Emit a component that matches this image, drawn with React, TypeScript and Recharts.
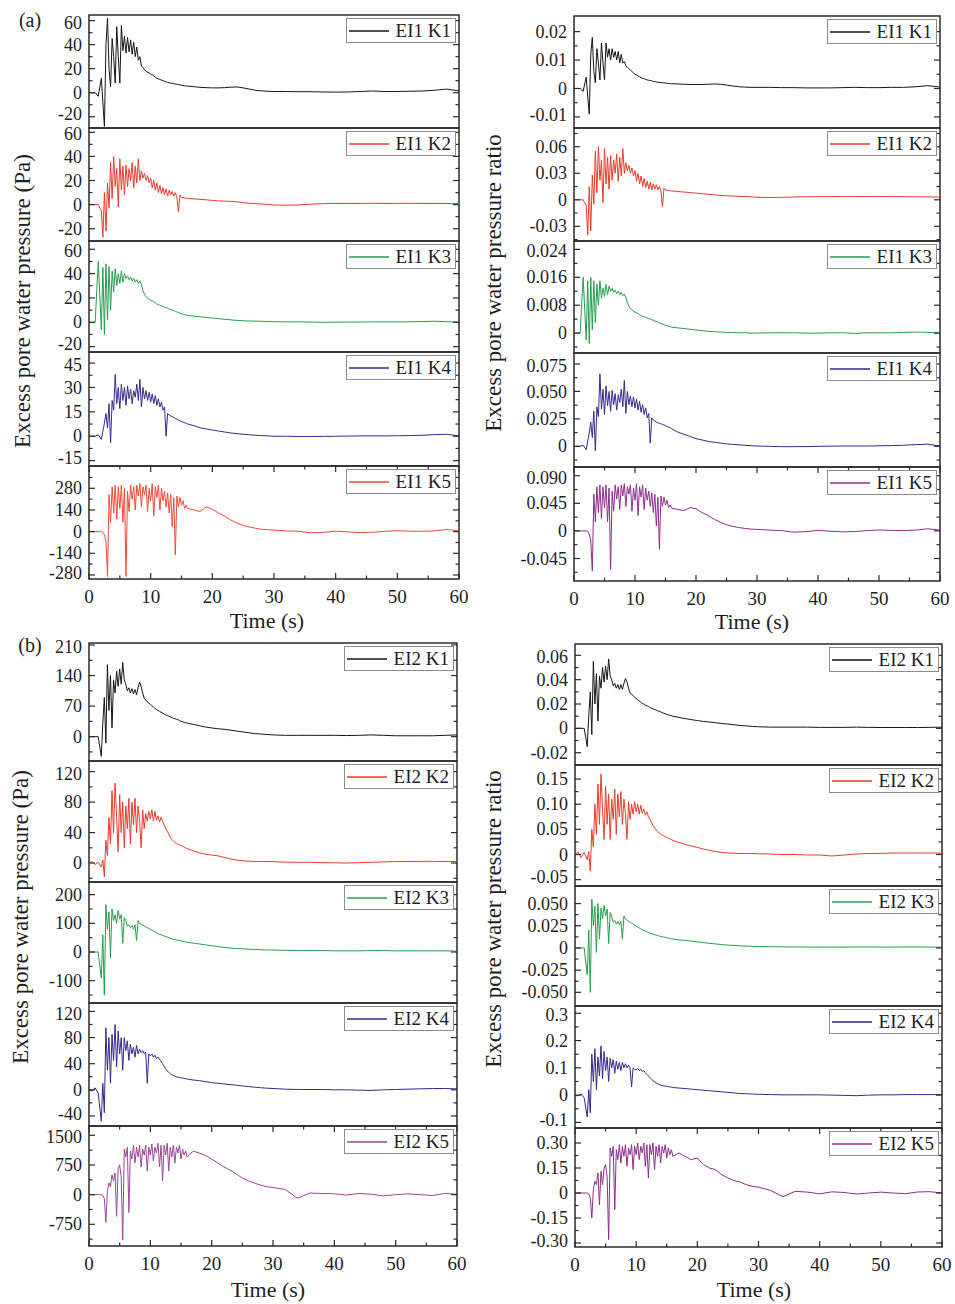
import React from 'react';
import { LineChart, Line, XAxis, YAxis, Legend, ReferenceArea } from 'recharts';

const SERIF = '"Liberation Serif", "Times New Roman", Times, serif';
const FRAME = '#2b2b2b';

// sample times (s), shared by every trace
const time = [
  0, 0.5, 1, 1.5,
  2, 2.25, 2.5, 2.75, 3, 3.25, 3.5, 3.75, 4, 4.25, 4.5, 4.75, 5, 5.25, 5.5, 5.75,
  6, 6.25, 6.5, 6.75, 7, 7.25, 7.5, 7.75, 8, 8.25, 8.5, 8.75, 9, 9.25, 9.5, 9.75,
  10, 10.25, 10.5, 10.75, 11, 11.25, 11.5, 11.75, 12, 12.25, 12.5, 12.75, 13, 13.25, 13.5, 13.75,
  14, 14.25, 14.5, 14.75, 15, 15.25, 15.5, 15.75, 16,
  17, 18, 19, 20, 21, 22, 23, 24, 25, 26, 27, 28, 29, 30,
  32, 34, 36, 38, 40, 42, 44, 46, 48, 50, 52, 54, 56, 58, 60,
];

// (a) EI1, excess pore water pressure (Pa)
const ei1K1Pa = [
  0, 0, 0, -3,
  12, -8, -28, 40, 62, 20, 5, 45, 30, 8, 55, 30, 8, 56, 35, 47,
  33, 46, 34, 44, 32, 42, 30, 38, 27, 30, 22, 21, 19, 18, 17, 16.5,
  15.5, 15, 14, 13, 12, 11.5, 11, 10.5, 10, 9.5, 9, 8.7, 8.3, 8, 7.8, 7.5,
  7.2, 7, 6.8, 6.5, 6.2, 6, 5.8, 5.6, 5.5,
  5, 4.5, 4.2, 4, 4, 4.2, 4.6, 4.8, 4, 3, 2, 1.5, 1.2, 1,
  1, 0.8, 0.8, 0.6, 0.5, 0.6, 1, 1.4, 1, 1, 1.2, 1.4, 2, 3, 1.5,
];
const ei1K2Pa = [
  0, 0, 0, 0,
  -5, -27, 10, -22, 18, -3, 35, 5, 40, 15, 30, -2, 38, 12, 32, 8,
  33, 15, 30, 20, 35, 14, 32, 18, 38, 20, 28, 22, 26, 20, 24, 18,
  22, 14, 20, 12, 18, 10, 16, 9, 14, 8, 13, 7, 12, 8, 11, 7,
  10, 6, -6, 8, 6, 5.8, 5.5, 5.2, 5,
  4.8, 4.4, 4, 3.5, 3.1, 2.9, 2.7, 2.3, 1.6, 1.2, 0.8, 0.5, 0.2, -0.3,
  -0.5, -0.2, 0.4, 0.8, 1, 1, 1, 1.1, 1, 1, 1.1, 1, 1, 0.9, 0.8,
];
const ei1K3Pa = [
  0, 0, 0, 50,
  -6, 45, -10, 48, 2, 46, 10, 42, 25, 44, 30, 40, 32, 42, 33, 40,
  36, 38, 35, 37, 34, 36, 33, 35, 32, 34, 31, 26, 23, 21, 20, 19,
  18, 17.5, 17, 16, 15, 14.5, 14, 13.5, 13, 12.5, 12, 11.5, 11, 10.5, 10, 9.5,
  9, 8.5, 8, 7.5, 7, 6.7, 6.3, 6, 5.7,
  5, 4.5, 4, 3.5, 3, 2.5, 2, 1.6, 1.3, 1.1, 1, 0.8, 0.6, 0.5,
  0.4, 0.3, 0.2, 0, 0.1, 0.2, 0.2, 0.3, 0.3, 0.3, 0.4, 0.6, 0.9, 0.5, 0.1,
];
const ei1K4Pa = [
  0, 0, 0, 1,
  -2, 3, 8, 14, 5, 20, -4, 22, 16, 38, 20, 30, 17, 32, 22, 30,
  19, 31, 23, 29, 20, 28, 24, 32, 22, 35, 18, 30, 23, 28, 22, 27,
  21, 26, 20, 25, 19, 23, 18, 21, 16, 18, 0, 14, 13, 12.5, 12, 11.5,
  11, 10.5, 10, 9.5, 9, 8.7, 8.3, 8, 7.5,
  6.5, 5.2, 4.5, 3.8, 3.2, 2.6, 2, 1.6, 1.2, 0.9, 0.6, 0.4, 0.2, 0,
  0, -0.2, -0.2, -0.1, 0, 0.1, 0.2, 0.2, 0.2, 0.3, 0.4, 0.6, 1, 1.2, 0.2,
];
const ei1K5Pa = [
  0, 0, 0, 0,
  0, -5, -20, -60, -290, 240, 60, 290, 120, 300, 80, 290, 150, 300, 60, 280,
  -290, 260, 130, 300, 210, 290, 140, 300, 230, 310, 160, 290, 240, 300, 130, 280,
  200, 310, 100, 290, 220, 300, 140, 280, 200, 260, 160, 250, 120, 240, 30, 220,
  -150, 230, 160, 220, 170, 200, 150, 170, 150,
  140, 130, 160, 145, 120, 100, 75, 55, 40, 30, 22, 15, 12, 10,
  5, 2, -8, -5, 3, -2, -6, -4, 2, 6, 3, 2, 5, 14, 5,
];

// (a) EI1, excess pore water pressure ratio
const ei1K1Ratio = [
  0, 0, 0, -0.001,
  0.004, -0.003, -0.009, 0.012, 0.018, 0.006, 0.002, 0.014, 0.009, 0.003, 0.016, 0.009, 0.003, 0.016, 0.011, 0.014,
  0.01, 0.014, 0.011, 0.013, 0.01, 0.013, 0.009, 0.012, 0.009, 0.0095, 0.008, 0.0075, 0.007, 0.0065, 0.006, 0.0055,
  0.005, 0.0047, 0.0044, 0.0041, 0.0038, 0.0036, 0.0034, 0.0032, 0.003, 0.0029, 0.0028, 0.0027, 0.0025, 0.0024, 0.0023, 0.0022,
  0.0021, 0.0021, 0.002, 0.002, 0.0019, 0.0018, 0.0018, 0.0017, 0.0017,
  0.0016, 0.0015, 0.0014, 0.0014, 0.0014, 0.0015, 0.0016, 0.0015, 0.0012, 0.0009, 0.0006, 0.0005, 0.0004, 0.0004,
  0.0004, 0.0003, 0.0003, 0.0002, 0.0002, 0.0002, 0.0003, 0.0004, 0.0003, 0.0003, 0.0004, 0.0004, 0.0006, 0.001, 0.0005,
];
const ei1K2Ratio = [
  0, 0, 0, 0,
  -0.006, -0.04, 0.015, -0.035, 0.028, -0.005, 0.055, 0.008, 0.06, 0.022, 0.045, -0.003, 0.058, 0.018, 0.048, 0.012,
  0.05, 0.022, 0.045, 0.03, 0.052, 0.021, 0.048, 0.027, 0.058, 0.03, 0.042, 0.033, 0.039, 0.03, 0.036, 0.027,
  0.033, 0.021, 0.03, 0.018, 0.027, 0.015, 0.024, 0.014, 0.021, 0.012, 0.02, 0.011, 0.018, 0.012, 0.017, 0.011,
  0.015, 0.01, -0.008, 0.013, 0.011, 0.0108, 0.0105, 0.0102, 0.01,
  0.0094, 0.0088, 0.0082, 0.0075, 0.0069, 0.0062, 0.0056, 0.005, 0.0045, 0.0042, 0.0039, 0.0037, 0.0033, 0.0029,
  0.0026, 0.0028, 0.0032, 0.0034, 0.0035, 0.0035, 0.0036, 0.0036, 0.0035, 0.0035, 0.0036, 0.0035, 0.0034, 0.0033, 0.003,
];
const ei1K3Ratio = [
  0, 0, 0, 0.016,
  -0.002, 0.015, -0.003, 0.016, 0.001, 0.015, 0.003, 0.014, 0.008, 0.015, 0.01, 0.013, 0.0105, 0.014, 0.011, 0.0135,
  0.012, 0.0128, 0.0117, 0.0123, 0.0113, 0.012, 0.011, 0.0117, 0.0107, 0.0112, 0.0103, 0.0087, 0.0077, 0.007, 0.0067, 0.0063,
  0.006, 0.0058, 0.0057, 0.0053, 0.005, 0.0048, 0.0047, 0.0045, 0.0043, 0.0042, 0.004, 0.0038, 0.0037, 0.0035, 0.0033, 0.0032,
  0.0029, 0.0027, 0.0026, 0.0024, 0.0022, 0.0021, 0.002, 0.0018, 0.0017,
  0.0015, 0.0013, 0.0011, 0.0009, 0.0007, 0.0005, 0.0004, 0.0003, 0.0002, 0.0002, 0.0001, 0.0001, 0, 0,
  0.0001, 0.0001, 0.0001, 0, 0, 0.0001, 0.0001, -0.0001, 0.0001, 0.0001, 0.0001, 0.0002, 0.0003, 0.0002, 0.0001,
];
const ei1K4Ratio = [
  0, 0, 0, 0.001,
  -0.003, 0.005, 0.012, 0.022, 0.008, 0.032, -0.004, 0.036, 0.027, 0.066, 0.034, 0.052, 0.029, 0.055, 0.037, 0.05,
  0.032, 0.051, 0.038, 0.048, 0.033, 0.047, 0.04, 0.052, 0.036, 0.06, 0.03, 0.05, 0.038, 0.046, 0.036, 0.045,
  0.035, 0.043, 0.033, 0.041, 0.031, 0.038, 0.029, 0.035, 0.026, 0.03, 0.003, 0.026, 0.024, 0.023, 0.022, 0.0215,
  0.021, 0.0205, 0.02, 0.0195, 0.019, 0.018, 0.0175, 0.017, 0.016,
  0.013, 0.011, 0.009, 0.007, 0.0058, 0.0045, 0.0037, 0.003, 0.0023, 0.0018, 0.0014, 0.001, 0.0006, 0.0003,
  0, -0.0003, -0.0003, -0.0002, 0, 0.0002, 0.0003, 0.0003, 0.0003, 0.0005, 0.0007, 0.001, 0.0016, 0.002, 0.0003,
];
const ei1K5Ratio = [
  0, 0, 0, 0,
  0, -0.001, -0.005, -0.015, -0.065, 0.06, 0.015, 0.072, 0.03, 0.075, 0.02, 0.072, 0.038, 0.075, 0.015, 0.07,
  -0.063, 0.065, 0.032, 0.075, 0.052, 0.072, 0.035, 0.075, 0.057, 0.077, 0.04, 0.072, 0.06, 0.075, 0.032, 0.07,
  0.05, 0.077, 0.025, 0.072, 0.055, 0.075, 0.035, 0.07, 0.05, 0.065, 0.04, 0.062, 0.03, 0.06, 0.008, 0.055,
  -0.03, 0.057, 0.04, 0.055, 0.042, 0.05, 0.038, 0.042, 0.037,
  0.035, 0.033, 0.038, 0.036, 0.03, 0.025, 0.019, 0.014, 0.01, 0.0075, 0.0055, 0.004, 0.003, 0.0025,
  0.0013, 0.0005, -0.002, -0.0013, 0.0008, -0.0005, -0.0015, -0.001, 0.0005, 0.0015, 0.0008, 0.0005, 0.0013, 0.0035, 0.0013,
];

// (b) EI2, excess pore water pressure (Pa)
const ei2K1Pa = [
  0, 0, 0, 0,
  -45, 30, 90, -15, 165, 60, 140, 20, 130, 100, 150, 115, 155, 120, 170, 130,
  120, 105, 112, 100, 110, 98, 108, 96, 112, 125, 115, 100, 88, 84, 80, 77,
  74, 71, 68, 65, 62, 60, 58, 56, 54, 52, 50, 49, 47, 45, 44, 42,
  41, 40, 39, 37, 35, 34, 33, 32, 31,
  28, 25, 22, 20, 18, 17, 15, 13, 11, 9, 7, 6, 5, 4,
  3, 3, 3, 3, 3, 2.5, 3, 4, 3, 2, 2, 2, 2, 3, 4,
];
const ei2K2Pa = [
  0, 2, -2, 1,
  -5, 4, -18, 30, 10, 60, 25, 95, 40, 105, 60, 15, 90, 40, 80, 20,
  75, 45, 85, 25, 80, 50, 85, 40, 75, 55, 20, 70, 45, 65, 55, 68,
  58, 70, 55, 68, 56, 62, 54, 60, 55, 50, 46, 42, 38, 34, 31, 29,
  27, 26, 25, 24, 23, 22, 21, 20, 19,
  16, 13.5, 11.5, 10.5, 9.5, 7.5, 5.5, 4, 3, 2.5, 2, 2, 2, 1.8,
  1.2, 1, 1, 0.5, 0.3, 0, 0.5, 1, 1.5, 2, 2, 2.2, 2.2, 2, 2,
];
const ei2K3Pa = [
  0, 0, 0, 0,
  -90, 60, -150, 165, 80, 140, -20, 150, 110, 130, 100, 145, 115, 130, 30, 120,
  110, 90, 95, 85, 92, 80, 95, 40, 110, 100, 97, 94, 91, 88, 85, 82,
  79, 76, 73, 70, 67, 64, 62, 60, 58, 56, 54, 52, 50, 48, 46, 44,
  43, 42, 41, 40, 39, 37, 36, 35, 34,
  31, 28, 25, 22, 19, 16, 14, 12, 11, 10, 9, 8, 7, 7,
  6, 5, 5, 5, 4, 4, 4, 5, 5, 4, 4, 4, 4, 4, 3,
];
const ei2K4Pa = [
  0, -2, 3, -5,
  -48, 10, -35, 95, 30, 80, 10, 85, 45, 100, 35, 90, 55, 80, 30, 80,
  60, 75, 45, 70, 55, 65, 50, 68, 55, 62, 57, 60, 55, 58, 10, 55,
  52, 55, 50, 53, 48, 50, 46, 44, 40, 36, 32, 29, 27, 25, 23, 22,
  21, 20, 19.5, 19, 18.5, 18, 17.5, 17, 16.5,
  15, 14, 12.5, 11, 10, 9, 8, 7, 6, 5, 4, 3.2, 2.5, 2,
  1, 0.5, 0.5, 0.5, 0, 0, -0.5, -1, 0, 0.5, 1, 1.5, 2, 2, 1.5,
];
const ei2K5Pa = [
  0, 0, 0, 0,
  0, -20, -100, -700, 100, 300, 200, 500, 350, 550, -550, 650, 750, 450, -1150, 1150,
  950, 1200, -450, 1100, 900, 1250, 800, 1200, 950, 1250, 700, 1150, 1000, 1250, 600, 1200,
  1000, 1280, 850, 1200, 1050, 1300, 700, 1250, 350, 1250, 1000, 1300, 600, 1200, 950, 1250,
  800, 1200, 1050, 1250, 900, 1150, 1000, 1100, 950,
  1100, 1050, 990, 900, 800, 700, 620, 520, 420, 350, 290, 240, 200, 180,
  130, -90, 40, 30, 20, -10, 30, 10, -30, 0, 20, 0, -20, 30, 10,
];

// (b) EI2, excess pore water pressure ratio
const ei2K1Ratio = [
  0, 0, 0, 0,
  -0.015, 0.01, 0.03, -0.005, 0.055, 0.02, 0.045, 0.006, 0.043, 0.033, 0.05, 0.038, 0.051, 0.04, 0.057, 0.043,
  0.04, 0.035, 0.037, 0.033, 0.036, 0.032, 0.036, 0.032, 0.037, 0.041, 0.038, 0.033, 0.029, 0.028, 0.027, 0.0255,
  0.0245, 0.0235, 0.0225, 0.0215, 0.0205, 0.02, 0.019, 0.0185, 0.018, 0.0172, 0.0165, 0.016, 0.0155, 0.015, 0.0145, 0.014,
  0.0135, 0.013, 0.0125, 0.012, 0.0115, 0.011, 0.0107, 0.0103, 0.01,
  0.009, 0.008, 0.0072, 0.0064, 0.0057, 0.0052, 0.0046, 0.004, 0.0035, 0.003, 0.0024, 0.002, 0.0016, 0.0013,
  0.001, 0.001, 0.001, 0.001, 0.0008, 0.0008, 0.0008, 0.001, 0.0008, 0.0007, 0.0007, 0.0007, 0.0007, 0.0008, 0.001,
];
const ei2K2Ratio = [
  0, 0.005, -0.006, 0.004,
  -0.01, 0.006, -0.033, 0.05, 0.015, 0.1, 0.04, 0.14, 0.06, 0.16, 0.09, 0.03, 0.135, 0.06, 0.12, 0.03,
  0.11, 0.07, 0.13, 0.04, 0.12, 0.075, 0.125, 0.06, 0.11, 0.08, 0.03, 0.105, 0.07, 0.1, 0.08, 0.105,
  0.085, 0.1, 0.08, 0.098, 0.082, 0.09, 0.078, 0.085, 0.075, 0.07, 0.064, 0.058, 0.053, 0.049, 0.046, 0.043,
  0.041, 0.039, 0.037, 0.035, 0.034, 0.032, 0.031, 0.03, 0.028,
  0.024, 0.02, 0.017, 0.014, 0.011, 0.008, 0.006, 0.004, 0.003, 0.0025, 0.002, 0.002, 0.002, 0.0015,
  0.001, 0, 0, -0.001, -0.001, -0.003, -0.001, 0.001, 0.002, 0.002, 0.003, 0.003, 0.003, 0.003, 0.003,
];
const ei2K3Ratio = [
  0, 0, 0, 0,
  -0.03, 0.02, -0.05, 0.055, 0.025, 0.047, -0.005, 0.05, 0.01, 0.045, 0.033, 0.048, 0.036, 0.044, 0.005, 0.04,
  0.036, 0.029, 0.031, 0.027, 0.03, 0.026, 0.03, 0.01, 0.036, 0.033, 0.031, 0.03, 0.029, 0.028, 0.027, 0.026,
  0.0245, 0.0235, 0.0225, 0.0215, 0.0205, 0.0197, 0.019, 0.0182, 0.0175, 0.0168, 0.016, 0.0155, 0.015, 0.0145, 0.014, 0.0135,
  0.013, 0.0127, 0.0123, 0.012, 0.0116, 0.0112, 0.0108, 0.0104, 0.01,
  0.0092, 0.0084, 0.0076, 0.0068, 0.006, 0.0052, 0.0045, 0.0038, 0.0032, 0.0028, 0.0024, 0.0021, 0.0018, 0.0016,
  0.0014, 0.0012, 0.0011, 0.001, 0.001, 0.001, 0.0009, 0.0011, 0.0012, 0.001, 0.001, 0.0011, 0.0011, 0.001, 0.0009,
];
const ei2K4Ratio = [
  0, -0.003, 0.004, -0.01,
  -0.08, 0.02, -0.065, 0.15, 0.05, 0.17, 0.02, 0.14, 0.07, 0.18, 0.06, 0.16, 0.09, 0.14, 0.05, 0.135,
  0.1, 0.13, 0.08, 0.125, 0.095, 0.12, 0.09, 0.12, 0.1, 0.115, 0.1, 0.11, 0.1, 0.03, 0.1, 0.095,
  0.092, 0.098, 0.09, 0.095, 0.087, 0.09, 0.082, 0.076, 0.07, 0.064, 0.058, 0.053, 0.049, 0.045, 0.042, 0.039,
  0.037, 0.035, 0.034, 0.033, 0.032, 0.031, 0.03, 0.029, 0.028,
  0.026, 0.024, 0.022, 0.02, 0.018, 0.016, 0.014, 0.012, 0.01, 0.008, 0.006, 0.005, 0.004, 0.003,
  0.002, 0.001, 0.001, 0.001, 0.001, 0, -0.001, -0.002, 0, 0.001, 0.001, 0.002, 0.002, 0.002, 0.002,
];
const ei2K5Ratio = [
  0, 0, 0, 0,
  0, -0.005, -0.03, -0.15, 0.02, 0.07, 0.05, 0.12, -0.07, 0.13, 0.05, 0.15, 0.17, 0.1, -0.28, 0.27,
  0.22, 0.28, -0.1, 0.26, 0.2, 0.29, 0.18, 0.28, 0.22, 0.29, 0.16, 0.27, 0.23, 0.29, 0.14, 0.28,
  0.23, 0.3, 0.2, 0.28, 0.24, 0.3, 0.16, 0.29, 0.09, 0.29, 0.23, 0.3, 0.14, 0.28, 0.22, 0.29,
  0.18, 0.28, 0.24, 0.29, 0.21, 0.27, 0.23, 0.26, 0.22,
  0.24, 0.22, 0.2, 0.21, 0.17, 0.15, 0.14, 0.11, 0.09, 0.075, 0.065, 0.05, 0.04, 0.035,
  0.015, -0.022, 0.01, 0.005, -0.005, 0.007, 0.003, -0.006, 0, 0.005, 0, -0.004, 0.006, 0.008, 0,
];

const timeTicks = [0, 5, 10, 15, 20, 25, 30, 35, 40, 45, 50, 55, 60];

type Trace = {
  name: string;
  values: number[];
  color: string;
  domain: [number, number];
  major: number[];
  minor: number[];
  digits: number;
};

type Group = {
  left: number;
  right: number;
  rows: number[];
  traces: Trace[];
  timeX: number;
  timeY: number;
  yLabel: string;
  yLabelX: number;
  yLabelY: number;
};

const BLACK = '#161616';
const RED = '#ec3a2c';
const GREEN = '#22a04c';
const INDIGO = '#342a8c';
const PURPLE = '#8f2d8d';

const groups: Group[] = [
  {
    left: 89, right: 459, rows: [15, 128, 241, 352, 466, 579],
    timeX: 267, timeY: 621, yLabel: 'Excess pore water pressure (Pa)', yLabelX: 22, yLabelY: 301,
    traces: [
      { name: 'EI1 K1', values: ei1K1Pa, color: BLACK, domain: [-29.4, 64.7], major: [-20, 0, 20, 40, 60], minor: [-10, 10, 30, 50], digits: 0 },
      { name: 'EI1 K2', values: ei1K2Pa, color: RED, domain: [-30.2, 63.6], major: [-20, 0, 20, 40, 60], minor: [-10, 10, 30, 50], digits: 0 },
      { name: 'EI1 K3', values: ei1K3Pa, color: GREEN, domain: [-24.4, 66.8], major: [-20, 0, 20, 40, 60], minor: [-10, 10, 30, 50], digits: 0 },
      { name: 'EI1 K4', values: ei1K4Pa, color: INDIGO, domain: [-18.3, 51.8], major: [-15, 0, 15, 30, 45], minor: [-7.5, 7.5, 22.5, 37.5], digits: 0 },
      { name: 'EI1 K5', values: ei1K5Pa, color: '#ef4a38', domain: [-306, 424], major: [-280, -140, 0, 140, 280], minor: [-210, -70, 70, 210, 350], digits: 0 },
    ],
  },
  {
    left: 574, right: 940, rows: [16, 128, 241, 353, 467, 581],
    timeX: 752, timeY: 622, yLabel: 'Excess pore water pressure ratio', yLabelX: 493, yLabelY: 283,
    traces: [
      { name: 'EI1 K1', values: ei1K1Ratio, color: BLACK, domain: [-0.0139, 0.0255], major: [-0.01, 0, 0.01, 0.02], minor: [-0.005, 0.005, 0.015], digits: 2 },
      { name: 'EI1 K2', values: ei1K2Ratio, color: RED, domain: [-0.0466, 0.0812], major: [-0.03, 0, 0.03, 0.06], minor: [-0.045, -0.015, 0.015, 0.045, 0.075], digits: 2 },
      { name: 'EI1 K3', values: ei1K3Ratio, color: GREEN, domain: [-0.0057, 0.0264], major: [0, 0.008, 0.016, 0.024], minor: [-0.004, 0.004, 0.012, 0.02], digits: 3 },
      { name: 'EI1 K4', values: ei1K4Ratio, color: INDIGO, domain: [-0.0188, 0.085], major: [0, 0.025, 0.05, 0.075], minor: [-0.0125, 0.0125, 0.0375, 0.0625], digits: 3 },
      { name: 'EI1 K5', values: ei1K5Ratio, color: PURPLE, domain: [-0.0817, 0.1042], major: [-0.045, 0, 0.045, 0.09], minor: [-0.0675, -0.0225, 0.0225, 0.0675], digits: 3 },
    ],
  },
  {
    left: 89, right: 457, rows: [643, 761, 882, 1003, 1126, 1246],
    timeX: 268, timeY: 1290, yLabel: 'Excess pore water pressure (Pa)', yLabelX: 20, yLabelY: 917,
    traces: [
      { name: 'EI2 K1', values: ei2K1Pa, color: BLACK, domain: [-55.8, 214.6], major: [0, 70, 140, 210], minor: [-35, 35, 105, 175], digits: 0 },
      { name: 'EI2 K2', values: ei2K2Pa, color: RED, domain: [-24.9, 134], major: [0, 40, 80, 120], minor: [-20, 20, 60, 100], digits: 0 },
      { name: 'EI2 K3', values: ei2K3Pa, color: GREEN, domain: [-177.7, 244], major: [-100, 0, 100, 200], minor: [-150, -50, 50, 150], digits: 0 },
      { name: 'EI2 K4', values: ei2K4Pa, color: INDIGO, domain: [-55.4, 132.9], major: [-40, 0, 40, 80, 120], minor: [-20, 20, 60, 100], digits: 0 },
      { name: 'EI2 K5', values: ei2K5Pa, color: '#9c469a', domain: [-1298, 1735], major: [-750, 0, 750, 1500], minor: [-1125, -375, 375, 1125], digits: 0 },
    ],
  },
  {
    left: 575, right: 942, rows: [644, 765, 886, 1006, 1128, 1247],
    timeX: 754, timeY: 1290, yLabel: 'Excess pore water pressure ratio', yLabelX: 493, yLabelY: 919,
    traces: [
      { name: 'EI2 K1', values: ei2K1Ratio, color: BLACK, domain: [-0.0301, 0.0693], major: [-0.02, 0, 0.02, 0.04, 0.06], minor: [-0.01, 0.01, 0.03, 0.05], digits: 2 },
      { name: 'EI2 K2', values: ei2K2Ratio, color: RED, domain: [-0.0626, 0.1779], major: [-0.05, 0, 0.05, 0.1, 0.15], minor: [-0.025, 0.025, 0.075, 0.125], digits: 2 },
      { name: 'EI2 K3', values: ei2K3Ratio, color: GREEN, domain: [-0.0654, 0.0698], major: [-0.05, -0.025, 0, 0.025, 0.05], minor: [-0.0375, -0.0125, 0.0125, 0.0375], digits: 3 },
      { name: 'EI2 K4', values: ei2K4Ratio, color: INDIGO, domain: [-0.1205, 0.3267], major: [-0.1, 0, 0.1, 0.2, 0.3], minor: [-0.05, 0.05, 0.15, 0.25], digits: 1 },
      { name: 'EI2 K5', values: ei2K5Ratio, color: PURPLE, domain: [-0.324, 0.39], major: [-0.3, -0.15, 0, 0.15, 0.3], minor: [-0.225, -0.075, 0.075, 0.225], digits: 2 },
    ],
  },
];

const YW = 84; // room for the y tick labels
const RM = 14; // room for the last time label
const PAD = 10; // overlap so labels at the frame edge are not clipped
const XH = 30; // time tick label band
const TICK_FONT = 18;

type PanelProps = { trace: Trace; left: number; top: number; width: number; height: number; showTime: boolean };

function Panel({ trace, left, top, width, height, showTime }: PanelProps) {
  const data = time.map((t, i) => ({ t, v: trace.values[i] }));
  const yTicks = [...trace.major, ...trace.minor];
  const isMajor = (v: number) => trace.major.some((m) => Math.abs(m - v) < 1e-9);
  const fmt = (v: number) => (Math.abs(v) < 1e-12 ? '0' : v.toFixed(trace.digits));
  const yTop = PAD;
  const yBottom = PAD + height;
  const xRight = YW + width;

  const xTick = (props: any) => {
    const { x, payload } = props;
    const major = payload.value % 10 === 0;
    const len = major ? 6 : 3.5;
    return (
      <g>
        <line x1={x} x2={x} y1={yBottom} y2={yBottom - len} stroke={FRAME} strokeWidth={1.2} />
        <line x1={x} x2={x} y1={yTop} y2={yTop + len} stroke={FRAME} strokeWidth={1.2} />
        {showTime && major ? (
          <text x={x} y={yBottom + 24} textAnchor="middle" fontSize={TICK_FONT + 1} fill="#1e1e1e" fontFamily={SERIF}>
            {payload.value}
          </text>
        ) : null}
      </g>
    );
  };

  const yTick = (props: any) => {
    const { y, payload } = props;
    const major = isMajor(payload.value);
    const len = major ? 6 : 3.5;
    // labels sitting right on a panel edge are eased inward a little so neighbours do not collide
    let shift = 0;
    if (yBottom - y < 12) shift = -2.5;
    else if (y - yTop < 12) shift = 2;
    return (
      <g>
        <line x1={YW} x2={YW + len} y1={y} y2={y} stroke={FRAME} strokeWidth={1.2} />
        <line x1={xRight} x2={xRight - len} y1={y} y2={y} stroke={FRAME} strokeWidth={1.2} />
        {major ? (
          <text x={YW - 7} y={y + shift} dy="0.34em" textAnchor="end" fontSize={TICK_FONT} fill="#1e1e1e" fontFamily={SERIF}>
            {fmt(payload.value)}
          </text>
        ) : null}
      </g>
    );
  };

  const legend = () => (
    <div
      style={{
        display: 'flex',
        alignItems: 'center',
        height: 23,
        border: '1px solid #8c8c8c',
        background: '#fff',
        padding: '0 4px 0 2px',
        fontFamily: SERIF,
        fontSize: 19,
        color: '#1e1e1e',
        whiteSpace: 'nowrap',
        lineHeight: 1,
      }}
    >
      <svg width={40} height={10}>
        <line x1={0} x2={40} y1={5} y2={5} stroke={trace.color} strokeWidth={1.3} />
      </svg>
      <span style={{ marginLeft: 7 }}>{trace.name}</span>
    </div>
  );

  const chartH = PAD + height + (showTime ? XH : PAD);

  return (
    <div style={{ position: 'absolute', left: left - YW, top: top - PAD }}>
      <LineChart
        width={YW + width + RM}
        height={chartH}
        data={data}
        margin={{ top: PAD, right: RM, bottom: showTime ? 0 : PAD, left: 0 }}
      >
        <XAxis
          dataKey="t"
          type="number"
          domain={[0, 60]}
          ticks={timeTicks}
          interval={0}
          height={showTime ? XH : 0}
          tick={xTick}
          tickLine={false}
          axisLine={false}
          allowDataOverflow
        />
        <YAxis
          type="number"
          domain={trace.domain}
          ticks={yTicks}
          interval={0}
          width={YW}
          tick={yTick}
          tickLine={false}
          axisLine={false}
          allowDataOverflow
        />
        <Legend
          verticalAlign="middle"
          align="center"
          layout="horizontal"
          wrapperStyle={{ top: PAD + 3, right: RM + 3, left: 'auto', width: 'auto', height: 'auto' }}
          content={legend}
        />
        <Line
          dataKey="v"
          name={trace.name}
          stroke={trace.color}
          strokeWidth={1}
          dot={false}
          activeDot={false}
          isAnimationActive={false}
        />
        <ReferenceArea
          x1={0}
          x2={60}
          y1={trace.domain[0]}
          y2={trace.domain[1]}
          fill="none"
          fillOpacity={0}
          stroke={FRAME}
          strokeWidth={1.5}
          ifOverflow="visible"
        />
      </LineChart>
    </div>
  );
}

const centered: React.CSSProperties = {
  position: 'absolute',
  whiteSpace: 'nowrap',
  fontFamily: SERIF,
  color: '#1e1e1e',
  lineHeight: 1,
};

export default function App() {
  return (
    <div style={{ position: 'absolute', left: 0, top: 0, width: 955, height: 1304, background: '#fff' }}>
      {groups.map((g, gi) => (
        <React.Fragment key={gi}>
          {g.traces.map((tr, i) => (
            <Panel
              key={tr.name + gi}
              trace={tr}
              left={g.left}
              top={g.rows[i]}
              width={g.right - g.left}
              height={g.rows[i + 1] - g.rows[i]}
              showTime={i === g.traces.length - 1}
            />
          ))}
          <div style={{ ...centered, left: g.timeX, top: g.timeY, fontSize: 22, transform: 'translate(-50%, -50%)' }}>
            Time (s)
          </div>
          <div
            style={{
              ...centered,
              left: g.yLabelX,
              top: g.yLabelY,
              fontSize: 23,
              transform: 'translate(-50%, -50%) rotate(-90deg)',
            }}
          >
            {g.yLabel}
          </div>
        </React.Fragment>
      ))}
      <div style={{ ...centered, left: 30, top: 20, fontSize: 20, transform: 'translate(-50%, -50%)' }}>(a)</div>
      <div style={{ ...centered, left: 30, top: 645, fontSize: 20, transform: 'translate(-50%, -50%)' }}>(b)</div>
    </div>
  );
}
